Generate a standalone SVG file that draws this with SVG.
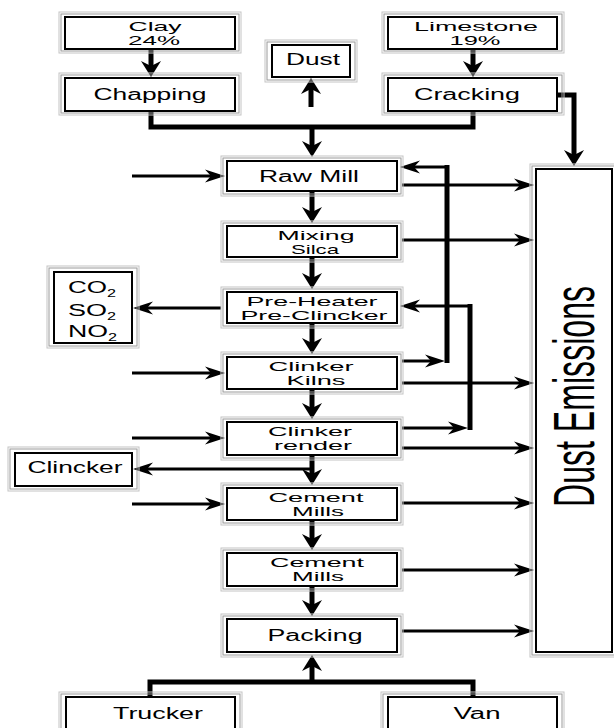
<svg xmlns="http://www.w3.org/2000/svg" width="614" height="728" viewBox="0 0 614 728">
  <style>
    .box { fill: #ffffff; stroke: #000000; stroke-width: 2; }
    .frame1 { fill: none; stroke: #9a9a9a; stroke-width: 1; }
    .frame2 { fill: none; stroke: #c4c4c4; stroke-width: 1; }
    .lbl { font-family: "Liberation Sans", Arial, sans-serif; font-size: 16px; fill: #000; text-anchor: middle; }
    .lbl2 { font-family: "Liberation Sans", Arial, sans-serif; font-size: 13px; fill: #000; text-anchor: middle; }
    .gas { font-family: "Liberation Sans", Arial, sans-serif; font-size: 16px; fill: #000; }
    .sub { font-size: 11px; }
    .big { font-family: "Liberation Sans", Arial, sans-serif; font-size: 58px; fill: #000; }
    .thick { fill: none; stroke: #000; stroke-width: 5; }
    .thin { fill: none; stroke: #000; stroke-width: 3; }
  </style>
  <defs>
    <marker id="headThick" markerUnits="userSpaceOnUse" viewBox="0 -11 16 22" refX="5" refY="0" markerWidth="16" markerHeight="22" orient="auto">
      <path d="M0,-10 L16,0 L0,10 L5,0 Z" fill="#000"/>
    </marker>
    <marker id="headThin" markerUnits="userSpaceOnUse" viewBox="0 -7 20 14" refX="6" refY="0" markerWidth="20" markerHeight="14" orient="auto">
      <path d="M0,-6.5 L20,0 L0,6.5 L6,0 Z" fill="#000"/>
    </marker>
  </defs>

  <rect width="614" height="728" fill="#ffffff"/>

  <!-- connectors -->
  <g id="connectors">
    <!-- raw materials into crushers -->
    <path class="thick" d="M151,50 V66" marker-end="url(#headThick)"/>
    <path class="thick" d="M473,50 V66" marker-end="url(#headThick)"/>
    <!-- crushers merge into raw mill -->
    <path class="thick" d="M151,112 V127 H473 V112"/>
    <path class="thick" d="M312,127 V146" marker-end="url(#headThick)"/>
    <path class="thick" d="M311,107 V89" marker-end="url(#headThick)"/>
    <!-- cracking to dust emissions -->
    <path class="thick" d="M557,95 H574 V155" marker-end="url(#headThick)"/>
    <!-- main process chain -->
    <path class="thick" d="M312,192 V212" marker-end="url(#headThick)"/>
    <path class="thick" d="M312,258 V278" marker-end="url(#headThick)"/>
    <path class="thick" d="M312,324 V343" marker-end="url(#headThick)"/>
    <path class="thick" d="M312,390 V408" marker-end="url(#headThick)"/>
    <path class="thick" d="M312,456 V474" marker-end="url(#headThick)"/>
    <path class="thick" d="M312,521 V539" marker-end="url(#headThick)"/>
    <path class="thick" d="M312,587 V605" marker-end="url(#headThick)"/>
    <!-- dispatch to packing -->
    <path class="thick" d="M150,697 V682 H473 V697"/>
    <path class="thick" d="M312,684 V666" marker-end="url(#headThick)"/>
    <!-- side inputs -->
    <path class="thin" d="M132,176 H211" marker-end="url(#headThin)"/>
    <path class="thin" d="M132,373 H211" marker-end="url(#headThin)"/>
    <path class="thin" d="M132,438 H211" marker-end="url(#headThin)"/>
    <path class="thin" d="M132,504 H211" marker-end="url(#headThin)"/>
    <!-- outputs to dust emissions -->
    <path class="thin" d="M402,185 H520" marker-end="url(#headThin)"/>
    <path class="thin" d="M402,240 H520" marker-end="url(#headThin)"/>
    <path class="thin" d="M402,383 H520" marker-end="url(#headThin)"/>
    <path class="thin" d="M402,448 H520" marker-end="url(#headThin)"/>
    <path class="thin" d="M402,503 H520" marker-end="url(#headThin)"/>
    <path class="thin" d="M402,570 H520" marker-end="url(#headThin)"/>
    <path class="thin" d="M402,631 H520" marker-end="url(#headThin)"/>
    <!-- kiln return loop to raw mill -->
    <path class="thin" d="M402,361 H431" marker-end="url(#headThin)"/>
    <path class="thick" d="M447,363 V165"/>
    <path class="thin" d="M449,167 H414" marker-end="url(#headThin)"/>
    <!-- render return loop to pre-heater -->
    <path class="thin" d="M402,428 H454" marker-end="url(#headThin)"/>
    <path class="thick" d="M470,430 V304"/>
    <path class="thin" d="M472,306 H414" marker-end="url(#headThin)"/>
    <!-- gases and clinker outputs -->
    <path class="thin" d="M221,308 H147" marker-end="url(#headThin)"/>
    <path class="thin" d="M313,469 H147" marker-end="url(#headThin)"/>
  </g>

  <!-- nodes -->
  <g id="clay">
    <rect class="frame2" x="59" y="12" width="182" height="41"/>
    <rect class="frame1" x="61" y="14" width="178" height="37"/>
    <rect class="box" x="65" y="17" width="170" height="32"/>
    <text class="lbl2"><tspan x="155" y="30.5" textLength="53" lengthAdjust="spacingAndGlyphs">Clay</tspan><tspan x="154" y="45.2" textLength="52" lengthAdjust="spacingAndGlyphs">24%</tspan></text>
  </g>
  <g id="chapping">
    <rect class="frame2" x="59" y="73" width="182" height="42"/>
    <rect class="frame1" x="61" y="75" width="178" height="38"/>
    <rect class="box" x="65" y="78" width="170" height="33"/>
    <text class="lbl" x="150" y="100" textLength="113" lengthAdjust="spacingAndGlyphs">Chapping</text>
  </g>
  <g id="dust">
    <rect class="frame2" x="265" y="40" width="92" height="42"/>
    <rect class="frame1" x="267" y="42" width="88" height="38"/>
    <rect class="box" x="272" y="45" width="78" height="32"/>
    <text class="lbl" x="313" y="65" textLength="54" lengthAdjust="spacingAndGlyphs">Dust</text>
  </g>
  <g id="limestone">
    <rect class="frame2" x="382" y="12" width="182" height="41"/>
    <rect class="frame1" x="384" y="14" width="178" height="37"/>
    <rect class="box" x="388" y="17" width="169" height="32"/>
    <text class="lbl2"><tspan x="476" y="30.5" textLength="124" lengthAdjust="spacingAndGlyphs">Limestone</tspan><tspan x="475" y="45.2" textLength="51" lengthAdjust="spacingAndGlyphs">19%</tspan></text>
  </g>
  <g id="cracking">
    <rect class="frame2" x="382" y="73" width="182" height="42"/>
    <rect class="frame1" x="384" y="75" width="178" height="38"/>
    <rect class="box" x="388" y="78" width="169" height="33"/>
    <text class="lbl" x="467" y="100" textLength="106" lengthAdjust="spacingAndGlyphs">Cracking</text>
  </g>
  <g id="raw-mill">
    <rect class="frame2" x="221" y="156" width="182" height="40"/>
    <rect class="frame1" x="223" y="158" width="178" height="36"/>
    <rect class="box" x="227" y="161" width="170" height="30"/>
    <text class="lbl" x="309" y="182" textLength="100" lengthAdjust="spacingAndGlyphs">Raw Mill</text>
  </g>
  <g id="mixing-silca">
    <rect class="frame2" x="221" y="221" width="182" height="41"/>
    <rect class="frame1" x="223" y="223" width="178" height="37"/>
    <rect class="box" x="227" y="226" width="170" height="31"/>
    <text class="lbl2"><tspan x="316" y="239.5" textLength="77" lengthAdjust="spacingAndGlyphs">Mixing</tspan><tspan x="315" y="254.2" textLength="48" lengthAdjust="spacingAndGlyphs">Silca</tspan></text>
  </g>
  <g id="pre-heater">
    <rect class="frame2" x="221" y="287" width="182" height="41"/>
    <rect class="frame1" x="223" y="289" width="178" height="37"/>
    <rect class="box" x="227" y="292" width="170" height="31"/>
    <text class="lbl2"><tspan x="312" y="305.5" textLength="131" lengthAdjust="spacingAndGlyphs">Pre-Heater</tspan><tspan x="314" y="320.2" textLength="147" lengthAdjust="spacingAndGlyphs">Pre-Clincker</tspan></text>
  </g>
  <g id="clinker-kilns">
    <rect class="frame2" x="221" y="352" width="182" height="42"/>
    <rect class="frame1" x="223" y="354" width="178" height="38"/>
    <rect class="box" x="227" y="357" width="170" height="32"/>
    <text class="lbl2"><tspan x="311" y="370.5" textLength="85" lengthAdjust="spacingAndGlyphs">Clinker</tspan><tspan x="316" y="385.2" textLength="59" lengthAdjust="spacingAndGlyphs">Kilns</tspan></text>
  </g>
  <g id="clinker-render">
    <rect class="frame2" x="221" y="417" width="182" height="43"/>
    <rect class="frame1" x="223" y="419" width="178" height="39"/>
    <rect class="box" x="227" y="422" width="170" height="33"/>
    <text class="lbl2"><tspan x="310" y="435.5" textLength="84" lengthAdjust="spacingAndGlyphs">Clinker</tspan><tspan x="313" y="450.2" textLength="78" lengthAdjust="spacingAndGlyphs">render</tspan></text>
  </g>
  <g id="cement-mills-1">
    <rect class="frame2" x="221" y="483" width="182" height="42"/>
    <rect class="frame1" x="223" y="485" width="178" height="38"/>
    <rect class="box" x="227" y="488" width="170" height="32"/>
    <text class="lbl2"><tspan x="316" y="501.5" textLength="95" lengthAdjust="spacingAndGlyphs">Cement</tspan><tspan x="318" y="516.2" textLength="52" lengthAdjust="spacingAndGlyphs">Mills</tspan></text>
  </g>
  <g id="cement-mills-2">
    <rect class="frame2" x="221" y="548" width="182" height="43"/>
    <rect class="frame1" x="223" y="550" width="178" height="39"/>
    <rect class="box" x="227" y="553" width="170" height="33"/>
    <text class="lbl2"><tspan x="317" y="566.5" textLength="94" lengthAdjust="spacingAndGlyphs">Cement</tspan><tspan x="318" y="581.2" textLength="52" lengthAdjust="spacingAndGlyphs">Mills</tspan></text>
  </g>
  <g id="packing">
    <rect class="frame2" x="221" y="614" width="182" height="43"/>
    <rect class="frame1" x="223" y="616" width="178" height="39"/>
    <rect class="box" x="227" y="619" width="170" height="33"/>
    <text class="lbl" x="315" y="641" textLength="95" lengthAdjust="spacingAndGlyphs">Packing</text>
  </g>
  <g id="trucker">
    <rect class="frame2" x="59" y="692" width="183" height="60"/>
    <rect class="frame1" x="61" y="694" width="179" height="56"/>
    <rect class="box" x="66" y="697" width="169" height="50"/>
    <text class="lbl" x="158" y="719" textLength="90" lengthAdjust="spacingAndGlyphs">Trucker</text>
  </g>
  <g id="van">
    <rect class="frame2" x="381" y="692" width="183" height="60"/>
    <rect class="frame1" x="383" y="694" width="179" height="56"/>
    <rect class="box" x="388" y="697" width="169" height="50"/>
    <text class="lbl" x="477" y="719" textLength="47" lengthAdjust="spacingAndGlyphs">Van</text>
  </g>
  <g id="gases">
    <rect class="frame2" x="47" y="266" width="92" height="82"/>
    <rect class="frame1" x="49" y="268" width="88" height="78"/>
    <rect class="box" x="54" y="272" width="78" height="71"/>
    <text class="gas"><tspan x="68" y="293" textLength="39" lengthAdjust="spacingAndGlyphs">CO</tspan><tspan class="sub" dy="4" textLength="9" lengthAdjust="spacingAndGlyphs">2</tspan><tspan x="68" y="316" textLength="39" lengthAdjust="spacingAndGlyphs">SO</tspan><tspan class="sub" dy="4" textLength="9" lengthAdjust="spacingAndGlyphs">2</tspan><tspan x="68" y="337" textLength="40" lengthAdjust="spacingAndGlyphs">NO</tspan><tspan class="sub" dy="4" textLength="9" lengthAdjust="spacingAndGlyphs">2</tspan></text>
  </g>
  <g id="clincker">
    <rect class="frame2" x="8" y="447" width="131" height="44"/>
    <rect class="frame1" x="10" y="449" width="127" height="40"/>
    <rect class="box" x="15" y="453" width="117" height="33"/>
    <text class="lbl" x="75" y="473" textLength="95" lengthAdjust="spacingAndGlyphs">Clincker</text>
  </g>
  <g id="dust-emissions">
    <rect class="frame2" x="530" y="164" width="90" height="493"/>
    <rect class="frame1" x="532" y="166" width="86" height="489"/>
    <rect class="box" x="536" y="169" width="76" height="483"/>
    <text class="big" transform="translate(594,507) rotate(-90)" x="0" y="0" textLength="221" lengthAdjust="spacingAndGlyphs">Dust Emissions</text>
  </g>
</svg>
